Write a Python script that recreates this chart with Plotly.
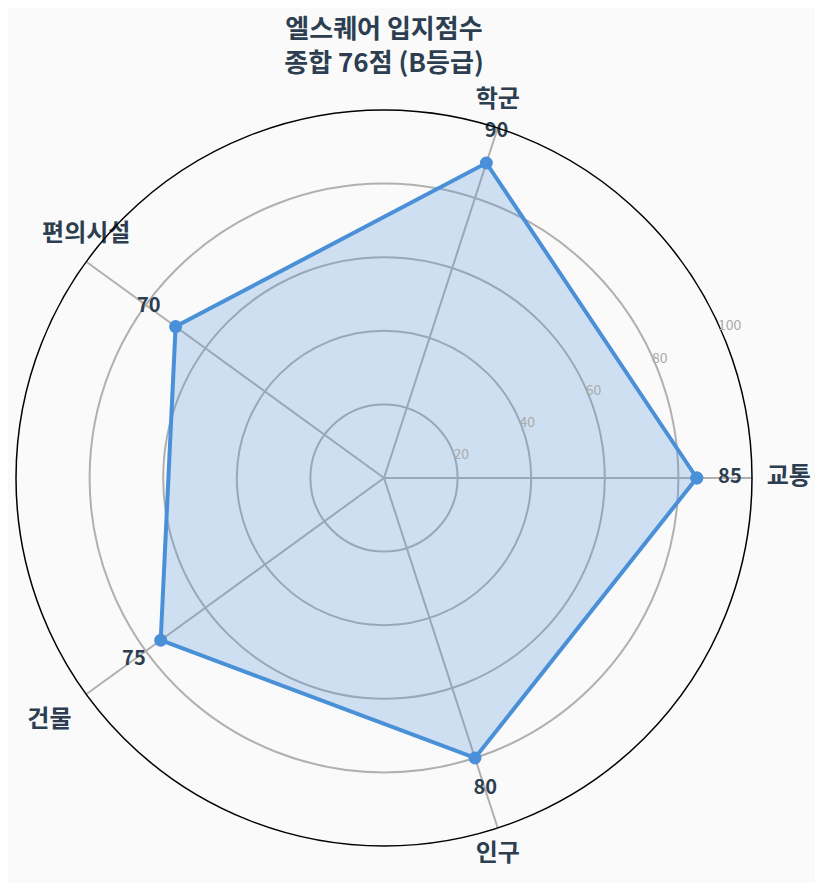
import plotly.graph_objects as go

categories = ["교통", "학군", "편의시설", "건물", "인구"]
scores = [85, 90, 70, 75, 80]
score_text = ["85", "90", "70", "75", "80"]
radial_ticks = [20, 40, 60, 80, 100]
label_r = [100, 100, 100, 100, 100]
label_pos = ["middle right", "top center", "top center", "bottom left", "bottom center"]

font_family = "Noto Sans CJK KR, Noto Sans, sans-serif"
navy = "#2c3e50"
blue = "#4a90d9"

fig = go.Figure()
fig.add_trace(
    go.Scatterpolar(
        r=scores + scores[:1],
        theta=categories + categories[:1],
        mode="lines+markers",
        fill="toself",
        fillcolor="rgba(74,144,217,0.25)",
        line=dict(color=blue, width=4),
        marker=dict(size=13, color=blue),
        showlegend=False,
    )
)
# score numbers, pushed a little outward from each point
fig.add_trace(
    go.Scatterpolar(
        r=[s + 9 for s in scores],
        theta=categories,
        mode="text",
        text=score_text,
        textposition="middle center",
        textfont=dict(family=font_family, size=20, color=navy, weight="bold"),
        showlegend=False,
        cliponaxis=False,
        hoverinfo="skip",
    )
)
# category names just outside the outer ring
fig.add_trace(
    go.Scatterpolar(
        r=label_r,
        theta=categories,
        mode="markers+text",
        text=categories,
        textposition=label_pos,
        textfont=dict(family=font_family, size=24, color=navy, weight="bold"),
        marker=dict(size=22, color="rgba(0,0,0,0)"),
        showlegend=False,
        cliponaxis=False,
        hoverinfo="skip",
    )
)

fig.update_layout(
    width=823,
    height=883,
    paper_bgcolor="#fafafa",
    font=dict(family=font_family),
    margin=dict(l=8, r=79, t=102, b=45),
    title=dict(
        text="<b>엘스퀘어 입지점수<br>종합 76점 (B등급)</b>",
        x=0.5,
        xref="paper",
        xanchor="center",
        y=1 - 30 / 883,
        yanchor="middle",
        font=dict(size=26, color=navy, family=font_family),
    ),
    polar=dict(
        bgcolor="#fafafa",
        radialaxis=dict(
            range=[0, 100],
            tickvals=radial_ticks,
            angle=26,
            tickangle=26,
            side="clockwise",
            showline=False,
            ticks="",
            gridcolor="#b0b0b0",
            gridwidth=1.5,
            tickfont=dict(size=14, color="#aaaaaa"),
        ),
        angularaxis=dict(
            direction="counterclockwise",
            rotation=0,
            showline=True,
            linecolor="black",
            linewidth=1.5,
            gridcolor="#b0b0b0",
            gridwidth=1.5,
            ticks="",
            showticklabels=False,
        ),
    ),
)

fig.write_html("out.html")
